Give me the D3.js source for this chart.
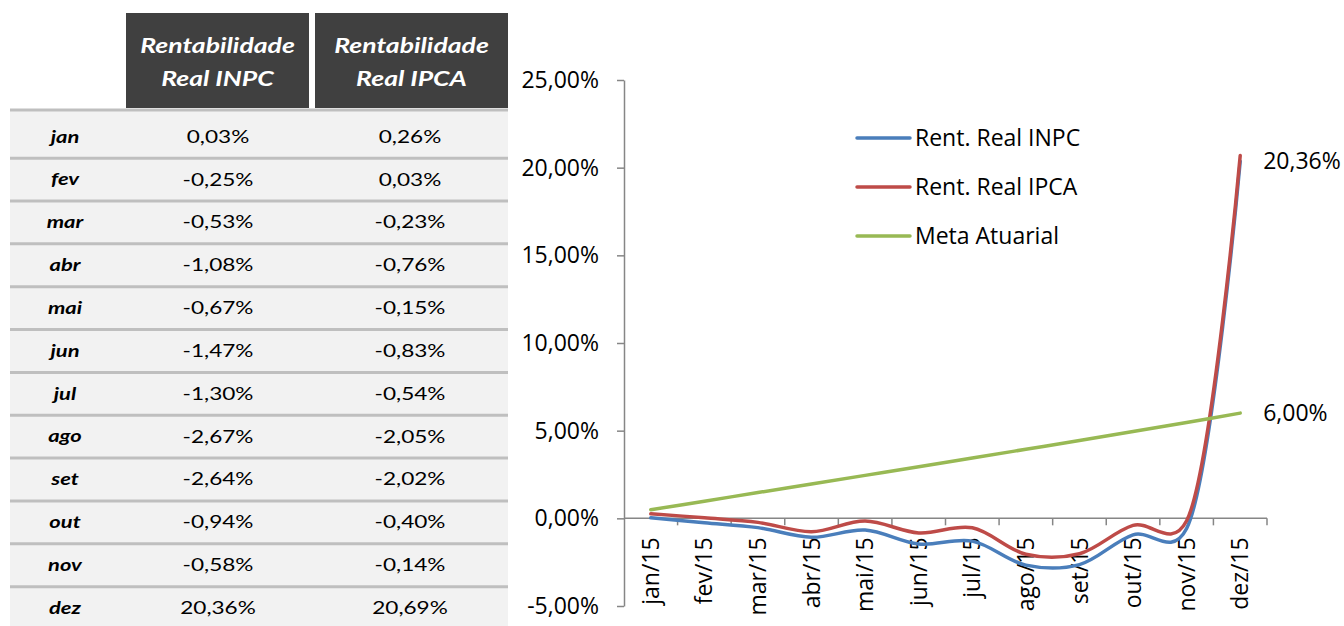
<!DOCTYPE html>
<html>
<head>
<meta charset="utf-8">
<script src="https://cdnjs.cloudflare.com/ajax/libs/d3/7.8.5/d3.min.js"></script>
<style>
  body { margin: 0; background: #fff; }
  svg { display: block; font-family: "Open Sans", sans-serif; }
  .table text { font-family: Lato, sans-serif; }
</style>
</head>
<body>
<div id="chart"></div>
<script>
// data
var months = ["jan", "fev", "mar", "abr", "mai", "jun", "jul", "ago", "set", "out", "nov", "dez"];
var categories = ["jan/15", "fev/15", "mar/15", "abr/15", "mai/15", "jun/15", "jul/15", "ago/15", "set/15", "out/15", "nov/15", "dez/15"];
var rentINPC = [0.03, -0.25, -0.53, -1.08, -0.67, -1.47, -1.30, -2.67, -2.64, -0.94, -0.58, 20.36];
var rentIPCA = [0.26, 0.03, -0.23, -0.76, -0.15, -0.83, -0.54, -2.05, -2.02, -0.40, -0.14, 20.69];
var metaAtuarial = [0.49, 0.98, 1.47, 1.96, 2.45, 2.94, 3.44, 3.94, 4.44, 4.95, 5.47, 6.00];
var yTicks = [-5, 0, 5, 10, 15, 20, 25];
var headerLines = [["Rentabilidade", "Real INPC"], ["Rentabilidade", "Real IPCA"]];
var seriesNames = ["Rent. Real INPC", "Rent. Real IPCA", "Meta Atuarial"];
var seriesColors = ["#4a7ebb", "#be4b48", "#98b954"];

var width = 1344, height = 626;

var svg = d3.select("#chart").append("svg")
  .attr("width", width)
  .attr("height", height);

// brazilian number format, 2 decimals with comma
var ptBR = d3.formatLocale({decimal: ",", thousands: ".", grouping: [3], currency: ["R$", ""], minus: "-"});
var fmt2 = ptBR.format(".2f");
function pct(v) { return fmt2(v) + "%"; }

// ---------------- table ----------------
var stretch = 1.33; // table text in the picture is horizontally stretched
var table = svg.append("g").attr("class", "table");

var rowY = d3.scaleBand().domain(months).range([115.3, 629.5]);
var colCenters = [65, 218, 410];

table.append("rect")
  .attr("x", 10).attr("y", 110)
  .attr("width", 498).attr("height", height - 110)
  .attr("fill", "#f2f2f2");

// separators
table.selectAll("line.sep")
  .data(months.slice(0, -1))
  .enter().append("line")
    .attr("class", "sep")
    .attr("x1", 10).attr("x2", 508)
    .attr("y1", function(d) { return rowY(d) + rowY.bandwidth(); })
    .attr("y2", function(d) { return rowY(d) + rowY.bandwidth(); })
    .attr("stroke", "#bfbfbf")
    .attr("stroke-width", 3);

table.append("line")
  .attr("x1", 10).attr("x2", 508)
  .attr("y1", 110).attr("y2", 110)
  .attr("stroke", "#bfbfbf")
  .attr("stroke-width", 3);

// header boxes
var headerBoxes = [{x: 126, w: 183}, {x: 315, w: 193}];
headerBoxes.forEach(function(b, i) {
  table.append("rect")
    .attr("x", b.x).attr("y", 13)
    .attr("width", b.w).attr("height", 95)
    .attr("fill", "#404040");
  headerLines[i].forEach(function(t, j) {
    table.append("text")
      .attr("transform", "translate(" + (b.x + b.w / 2) + "," + (46 + j * 33) + ") scale(" + stretch + ",1)")
      .attr("text-anchor", "middle")
      .attr("dy", "0.35em")
      .attr("fill", "#fff")
      .attr("font-weight", "bold")
      .attr("font-style", "italic")
      .attr("font-size", 20)
      .text(t);
  });
});

var rows = table.selectAll("g.trow")
  .data(months)
  .enter().append("g")
    .attr("class", "trow")
    .attr("transform", function(d) { return "translate(0," + (rowY(d) + rowY.bandwidth() / 2) + ")"; });

rows.append("text")
  .attr("transform", "translate(" + colCenters[0] + ",0) scale(" + stretch + ",1)")
  .attr("text-anchor", "middle")
  .attr("dy", "0.35em")
  .attr("font-weight", "bold")
  .attr("font-style", "italic")
  .attr("font-size", 16.5)
  .text(function(d) { return d; });

rows.append("text")
  .attr("transform", "translate(" + colCenters[1] + ",0) scale(" + stretch + ",1)")
  .attr("text-anchor", "middle")
  .attr("dy", "0.35em")
  .attr("font-size", 17)
  .text(function(d, i) { return pct(rentINPC[i]); });

rows.append("text")
  .attr("transform", "translate(" + colCenters[2] + ",0) scale(" + stretch + ",1)")
  .attr("text-anchor", "middle")
  .attr("dy", "0.35em")
  .attr("font-size", 17)
  .text(function(d, i) { return pct(rentIPCA[i]); });

// ---------------- line chart ----------------
var x = d3.scaleBand().domain(categories).range([624, 1267]);
var y = d3.scaleLinear().domain([-5, 25]).range([606, 80]);
var axisColor = "#868686";
var fontSize = 23;

function cx(i) { return x(categories[i]) + x.bandwidth() / 2; }

// y axis
var yAxis = svg.append("g")
  .attr("class", "axis axis--y")
  .attr("transform", "translate(624,0)")
  .call(d3.axisLeft(y).tickValues(yTicks).tickSize(7).tickSizeOuter(0).tickPadding(18).tickFormat(pct));
yAxis.select(".domain").attr("stroke", axisColor).attr("stroke-width", 1.5);
yAxis.selectAll(".tick line").attr("stroke", axisColor).attr("stroke-width", 1.5);
yAxis.selectAll(".tick text")
  .attr("fill", "#000")
  .style("font-family", "'Open Sans', sans-serif")
  .attr("font-size", fontSize);

// x axis at zero
var y0 = y(0);
var xAxis = svg.append("g").attr("class", "axis axis--x");
xAxis.append("line")
  .attr("x1", 624).attr("x2", 1267)
  .attr("y1", y0).attr("y2", y0)
  .attr("stroke", axisColor).attr("stroke-width", 1.5);
xAxis.selectAll("line.tick")
  .data(categories)
  .enter().append("line")
    .attr("class", "tick")
    .attr("x1", function(d) { return x(d) + x.bandwidth(); })
    .attr("x2", function(d) { return x(d) + x.bandwidth(); })
    .attr("y1", y0).attr("y2", y0 + 7)
    .attr("stroke", axisColor).attr("stroke-width", 1.5);
xAxis.selectAll("text")
  .data(categories)
  .enter().append("text")
    .attr("transform", function(d) { return "translate(" + (x(d) + x.bandwidth() / 2) + "," + (y0 + 19) + ") rotate(-90)"; })
    .attr("text-anchor", "end")
    .attr("dy", "0.35em")
    .attr("font-size", fontSize)
    .text(function(d) { return d; });

// lines (smoothed like the spreadsheet)
var line = d3.line()
  .x(function(d, i) { return cx(i); })
  .y(function(d) { return y(d); })
  .curve(d3.curveCatmullRom.alpha(0.25));

var allSeries = [rentINPC, rentIPCA, metaAtuarial];
svg.selectAll("path.series")
  .data(allSeries)
  .enter().append("path")
    .attr("class", "series")
    .attr("d", function(d) { return line(d); })
    .attr("fill", "none")
    .attr("stroke", function(d, i) { return seriesColors[i]; })
    .attr("stroke-width", 3.5)
    .attr("stroke-linecap", "round");

// data labels at the end
var last = categories.length - 1;
svg.append("text")
  .attr("x", cx(last) + 23)
  .attr("y", y(rentINPC[last]))
  .attr("dy", "0.35em")
  .attr("font-size", fontSize)
  .text(pct(rentINPC[last]));
svg.append("text")
  .attr("x", cx(last) + 23)
  .attr("y", y(metaAtuarial[last]))
  .attr("dy", "0.35em")
  .attr("font-size", fontSize)
  .text(pct(metaAtuarial[last]));

// legend
var legend = svg.selectAll("g.legend")
  .data(seriesNames)
  .enter().append("g")
    .attr("class", "legend")
    .attr("transform", function(d, i) { return "translate(857," + (138 + i * 49) + ")"; });
legend.append("line")
  .attr("x1", 0).attr("x2", 53)
  .attr("stroke", function(d, i) { return seriesColors[i]; })
  .attr("stroke-width", 3.5)
  .attr("stroke-linecap", "round");
legend.append("text")
  .attr("x", 58)
  .attr("dy", "0.35em")
  .attr("font-size", fontSize)
  .text(function(d) { return d; });
</script>
</body>
</html>
